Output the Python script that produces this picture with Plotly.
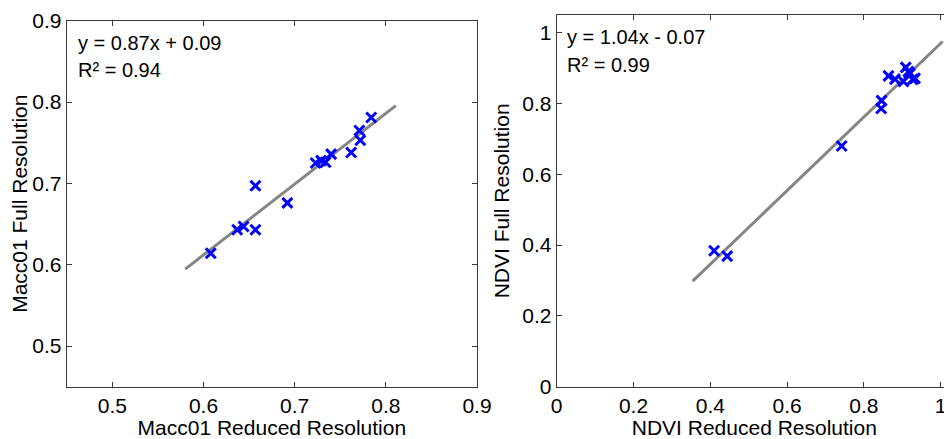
import plotly.graph_objects as go

# ---- data ----
macc_reduced = [0.608, 0.637, 0.644, 0.657, 0.657, 0.692, 0.723, 0.729, 0.734, 0.740, 0.762, 0.771, 0.772, 0.784]
macc_full    = [0.614, 0.643, 0.647, 0.643, 0.697, 0.676, 0.725, 0.728, 0.726, 0.736, 0.738, 0.765, 0.753, 0.781]
macc_slope, macc_intercept = 0.87, 0.09
macc_fit_x = [0.58, 0.811]

ndvi_reduced = [0.410, 0.444, 0.742, 0.845, 0.846, 0.864, 0.881, 0.903, 0.909, 0.916, 0.920, 0.927, 0.933]
ndvi_full    = [0.384, 0.369, 0.680, 0.786, 0.808, 0.878, 0.869, 0.862, 0.902, 0.890, 0.885, 0.868, 0.871]
ndvi_slope, ndvi_intercept = 1.04, -0.07
ndvi_fit_x = [0.354, 1.005]

macc_ticks = [0.5, 0.6, 0.7, 0.8, 0.9]
ndvi_ticks = [0, 0.2, 0.4, 0.6, 0.8, 1]
ndvi_ticktext = ["0", "0.2", "0.4", "0.6", "0.8", "1"]

# the page body has an 8px default margin, so the figure is drawn 8px in from the corner
OFF = 8
W, H = 952 - OFF, 439 - OFF
FONT = "Liberation Sans, Arial, sans-serif"
FS = 21

fig = go.Figure()

# fit lines
fig.add_trace(go.Scatter(x=macc_fit_x, y=[macc_slope * v + macc_intercept for v in macc_fit_x],
                         mode="lines", line=dict(color="#858585", width=3),
                         xaxis="x", yaxis="y", showlegend=False, hoverinfo="skip"))
fig.add_trace(go.Scatter(x=ndvi_fit_x, y=[ndvi_slope * v + ndvi_intercept for v in ndvi_fit_x],
                         mode="lines", line=dict(color="#858585", width=3),
                         xaxis="x2", yaxis="y2", showlegend=False, hoverinfo="skip"))
# points
fig.add_trace(go.Scatter(x=macc_reduced, y=macc_full, mode="markers",
                         marker=dict(symbol="x-thin", size=10, line=dict(color="#0000FF", width=3)),
                         xaxis="x", yaxis="y", showlegend=False))
fig.add_trace(go.Scatter(x=ndvi_reduced, y=ndvi_full, mode="markers",
                         marker=dict(symbol="x-thin", size=10, line=dict(color="#0000FF", width=3)),
                         xaxis="x2", yaxis="y2", showlegend=False))

def px_x(p):
    return (p - OFF) / W

def px_y(p):
    return (H - (p - OFF)) / H

axis_common = dict(showgrid=False, zeroline=False, showline=True, linecolor="#3a3a3a", linewidth=1,
                   ticks="inside", ticklen=5, tickcolor="#3a3a3a", automargin=False,
                   tickfont=dict(family=FONT, size=FS, color="black"))

fig.update_layout(
    width=W, height=H,
    margin=dict(l=0, r=0, t=0, b=0),
    paper_bgcolor="white", plot_bgcolor="white",
    font=dict(family=FONT, color="black"),
    xaxis=dict(domain=[px_x(66.7), px_x(477)], range=[0.45, 0.9], tickvals=macc_ticks,
               mirror="ticks", anchor="y",
               title=dict(text="Macc01 Reduced Resolution", font=dict(family=FONT, size=FS), standoff=2),
               **axis_common),
    yaxis=dict(domain=[px_y(386.7), px_y(20.7)], range=[0.45, 0.9], tickvals=macc_ticks,
               mirror="ticks", anchor="x",
               title=dict(text="Macc01 Full Resolution", font=dict(family=FONT, size=FS), standoff=6),
               **axis_common),
    xaxis2=dict(domain=[px_x(556.7), 1.0], range=[0, (952 - 556.7) / 384], tickvals=ndvi_ticks,
                ticktext=ndvi_ticktext, mirror="ticks", anchor="y2",
                title=dict(text="NDVI Reduced Resolution", font=dict(family=FONT, size=FS), standoff=2),
                **axis_common),
    yaxis2=dict(domain=[px_y(386.7), px_y(15)], range=[0, 1.05], tickvals=ndvi_ticks,
                ticktext=ndvi_ticktext, mirror=False, anchor="x2",
                title=dict(text="NDVI Full Resolution", font=dict(family=FONT, size=FS), standoff=6),
                **axis_common),
    annotations=[
        dict(text="y = 0.87x + 0.09", xref="x domain", yref="y domain", x=0.022, y=0.939,
             xanchor="left", yanchor="middle", showarrow=False, font=dict(family=FONT, size=20)),
        dict(text="R² = 0.94", xref="x domain", yref="y domain", x=0.022, y=0.865,
             xanchor="left", yanchor="middle", showarrow=False, font=dict(family=FONT, size=20)),
        dict(text="y = 1.04x - 0.07", xref="x2 domain", yref="y2 domain", x=0.022, y=0.941,
             xanchor="left", yanchor="middle", showarrow=False, font=dict(family=FONT, size=20)),
        dict(text="R² = 0.99", xref="x2 domain", yref="y2 domain", x=0.022, y=0.865,
             xanchor="left", yanchor="middle", showarrow=False, font=dict(family=FONT, size=20)),
    ],
)

fig.write_html("out.html")
